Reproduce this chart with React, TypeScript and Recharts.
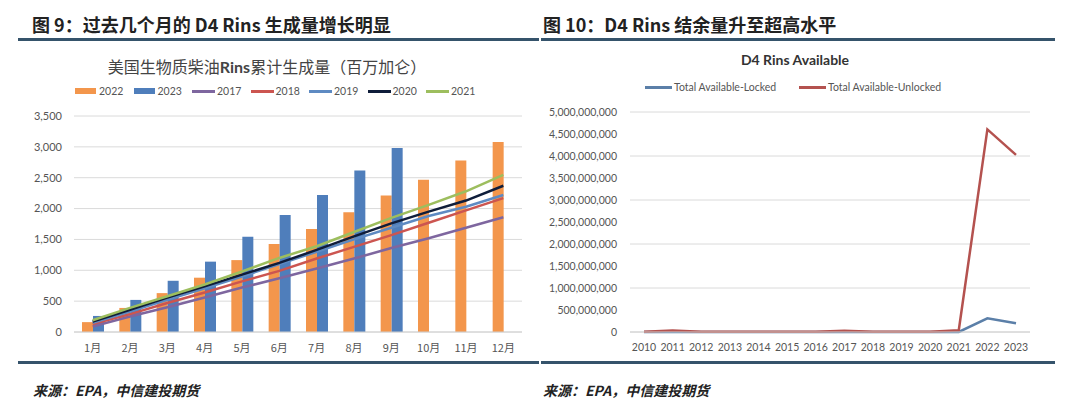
import React from 'react';
import { ComposedChart, LineChart, Bar, Line, XAxis, YAxis, CartesianGrid } from 'recharts';

// 左图：美国生物质柴油Rins累计生成量（百万加仑）
const months = ['1月', '2月', '3月', '4月', '5月', '6月', '7月', '8月', '9月', '10月', '11月', '12月'];
const rins2022 = [160, 390, 630, 880, 1165, 1425, 1670, 1940, 2210, 2465, 2780, 3080];
const rins2023 = [260, 520, 830, 1140, 1545, 1895, 2220, 2615, 2980, null, null, null];
const rins2017 = [90, 250, 400, 560, 720, 870, 1030, 1190, 1360, 1520, 1690, 1860];
const rins2018 = [130, 290, 470, 640, 820, 990, 1190, 1380, 1570, 1770, 1970, 2170];
const rins2019 = [150, 330, 520, 710, 900, 1100, 1300, 1500, 1690, 1880, 2030, 2220];
const rins2020 = [170, 360, 560, 740, 930, 1120, 1330, 1550, 1760, 1950, 2130, 2370];
const rins2021 = [190, 390, 580, 770, 980, 1200, 1390, 1620, 1850, 2060, 2280, 2545];
const leftTicks = [0, 500, 1000, 1500, 2000, 2500, 3000, 3500];

// 右图：D4 Rins Available
const years = ['2010', '2011', '2012', '2013', '2014', '2015', '2016', '2017', '2018', '2019', '2020', '2021', '2022', '2023'];
const lockedQty = [0, 0, 0, 0, 0, 0, 0, 0, 0, 0, 0, 0, 310000000, 200000000];
const unlockedQty = [3000000, 35000000, 5000000, 3000000, 3000000, 3000000, 5000000, 30000000, 5000000, 3000000, 3000000, 40000000, 4605000000, 4025000000];
const rightTicks = [0, 500000000, 1000000000, 1500000000, 2000000000, 2500000000, 3000000000, 3500000000, 4000000000, 4500000000, 5000000000];

const barSeries = [
  { key: 'y2022', name: '2022', color: '#F3964C' },
  { key: 'y2023', name: '2023', color: '#4F7EBB' },
];
const lineSeries = [
  { key: 'y2017', name: '2017', color: '#7E669F' },
  { key: 'y2018', name: '2018', color: '#CC5550' },
  { key: 'y2019', name: '2019', color: '#5E8AC2' },
  { key: 'y2020', name: '2020', color: '#0F1D3A' },
  { key: 'y2021', name: '2021', color: '#9DBE5E' },
];

const leftData = months.map((m, i) => ({
  month: m,
  y2022: rins2022[i],
  y2023: rins2023[i],
  y2017: rins2017[i],
  y2018: rins2018[i],
  y2019: rins2019[i],
  y2020: rins2020[i],
  y2021: rins2021[i],
}));

const rightData = years.map((y, i) => ({ year: y, locked: lockedQty[i], unlocked: unlockedQty[i] }));

const CJK = '"Noto Sans CJK SC", sans-serif';
const LATIN = 'Lato, "Noto Sans", sans-serif';
const RULE = '#35536B';

const fmt = (v: number) => v.toLocaleString('en-US');

const App: React.FC = () => {
  return (
    <div style={{ position: 'fixed', left: 0, top: 0, width: 1080, height: 409, background: '#fff', overflow: 'hidden' }}>
      {/* 标题 */}
      <div style={{ position: 'absolute', left: 32, top: 12, fontFamily: CJK, fontWeight: 700, fontSize: 18, color: '#222', whiteSpace: 'nowrap', lineHeight: '24px' }}>
        图 9：过去几个月的 D4 Rins 生成量增长明显
      </div>
      <div style={{ position: 'absolute', left: 543, top: 12, fontFamily: CJK, fontWeight: 700, fontSize: 18, color: '#222', whiteSpace: 'nowrap', lineHeight: '24px' }}>
        图 10：D4 Rins 结余量升至超高水平
      </div>
      <div style={{ position: 'absolute', left: 18, top: 38, width: 521, height: 3, background: RULE }} />
      <div style={{ position: 'absolute', left: 541, top: 38, width: 514, height: 3, background: RULE }} />

      {/* 左图 */}
      <div style={{ position: 'absolute', left: 0, top: 54, width: 540, textAlign: 'center' }}>
        <span style={{ fontFamily: CJK, fontSize: 16, color: '#444', marginLeft: -6 }}>美国生物质柴油<b style={{ fontFamily: LATIN }}>Rins</b>累计生成量（百万加仑）</span>
      </div>
      <div style={{ position: 'absolute', left: 75, top: 85, display: 'flex', fontFamily: LATIN, fontSize: 10.5, color: '#555', whiteSpace: 'nowrap' }}>
        {barSeries.map(s => (
          <div key={s.key} style={{ display: 'flex', alignItems: 'center', width: 58.5 }}>
            <span style={{ display: 'inline-block', width: 21, height: 6, background: s.color, marginRight: 3 }} />
            {s.name}
          </div>
        ))}
        {lineSeries.map(s => (
          <div key={s.key} style={{ display: 'flex', alignItems: 'center', width: 58.5 }}>
            <span style={{ display: 'inline-block', width: 23, height: 3, background: s.color, marginRight: 2 }} />
            {s.name}
          </div>
        ))}
      </div>
      <div style={{ position: 'absolute', left: 0, top: 0 }}>
        <ComposedChart width={540} height={360} data={leftData} margin={{ top: 116, right: 18, bottom: 0, left: 0 }} barGap={0} barCategoryGap={0}>
          <CartesianGrid vertical={false} stroke="#DADADA" />
          <XAxis dataKey="month" height={28} tickLine={false} axisLine={{ stroke: '#D0D0D0' }} tickMargin={6}
            tick={{ fontSize: 11, fill: '#555', fontFamily: CJK }} interval={0} />
          <YAxis width={74} domain={[0, 3500]} ticks={leftTicks} tickFormatter={fmt} axisLine={false} tickLine={false} tickMargin={6}
            tick={{ fontSize: 11, fill: '#555', fontFamily: LATIN }} />
          {barSeries.map(s => (
            <Bar key={s.key} dataKey={s.key} fill={s.color} barSize={11} isAnimationActive={false} />
          ))}
          {lineSeries.map(s => (
            <Line key={s.key} dataKey={s.key} type="linear" stroke={s.color} strokeWidth={2.5} dot={false} isAnimationActive={false} />
          ))}
        </ComposedChart>
      </div>

      {/* 右图 */}
      <div style={{ position: 'absolute', left: 540, top: 51, width: 510, textAlign: 'center', fontFamily: LATIN, fontWeight: 700, fontSize: 14, color: '#333' }}>
        D4 Rins Available
      </div>
      <div style={{ position: 'absolute', left: 645, top: 81, display: 'flex', fontFamily: LATIN, fontSize: 10.5, color: '#555', whiteSpace: 'nowrap' }}>
        <div style={{ display: 'flex', alignItems: 'center', width: 154 }}>
          <span style={{ display: 'inline-block', width: 27, height: 3, background: '#5B7FA8', marginRight: 2 }} />
          Total Available-Locked
        </div>
        <div style={{ display: 'flex', alignItems: 'center' }}>
          <span style={{ display: 'inline-block', width: 27, height: 3, background: '#B4524F', marginRight: 2 }} />
          Total Available-Unlocked
        </div>
      </div>
      <div style={{ position: 'absolute', left: 540, top: 0 }}>
        <LineChart width={540} height={360} data={rightData} margin={{ top: 112, right: 50, bottom: 0, left: 0 }}>
          <CartesianGrid vertical={false} stroke="#DADADA" />
          <XAxis dataKey="year" height={28} tickLine={false} axisLine={{ stroke: '#D0D0D0' }} padding={{ left: 14, right: 14 }} tickMargin={6}
            tick={{ fontSize: 10.5, fill: '#555', fontFamily: LATIN }} interval={0} />
          <YAxis width={90} domain={[0, 5000000000]} ticks={rightTicks} tickFormatter={fmt} axisLine={false} tickLine={false} tickMargin={7}
            tick={{ fontSize: 10.5, fill: '#555', fontFamily: LATIN }} />
          <Line dataKey="locked" type="linear" stroke="#5B7FA8" strokeWidth={2.5} dot={false} isAnimationActive={false} />
          <Line dataKey="unlocked" type="linear" stroke="#B4524F" strokeWidth={2.5} dot={false} isAnimationActive={false} />
        </LineChart>
      </div>

      {/* 来源 */}
      <div style={{ position: 'absolute', left: 18, top: 361, width: 521, height: 3, background: RULE }} />
      <div style={{ position: 'absolute', left: 541, top: 361, width: 514, height: 3, background: RULE }} />
      <div style={{ position: 'absolute', left: 33, top: 380, fontFamily: CJK, fontStyle: 'italic', fontWeight: 700, fontSize: 14, color: '#222', whiteSpace: 'nowrap' }}>
        来源：EPA，中信建投期货
      </div>
      <div style={{ position: 'absolute', left: 543, top: 380, fontFamily: CJK, fontStyle: 'italic', fontWeight: 700, fontSize: 14, color: '#222', whiteSpace: 'nowrap' }}>
        来源：EPA，中信建投期货
      </div>
    </div>
  );
};

export default App;
